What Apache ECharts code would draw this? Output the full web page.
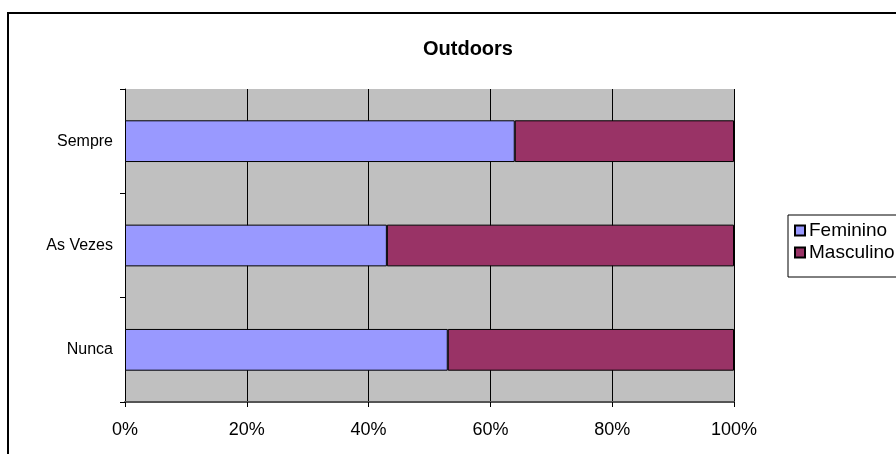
<!DOCTYPE html>
<html>
<head>
<meta charset="utf-8">
<script src="https://cdn.jsdelivr.net/npm/echarts@6/dist/echarts.min.js"></script>
<style>
  html, body { margin: 0; padding: 0; background: #fff; }
  #chart { width: 896px; height: 454px; }
</style>
</head>
<body>
<div id="chart"></div>
<script>
// categories bottom to top
const categories = ['Nunca', 'As Vezes', 'Sempre'];
const feminino = [53, 43, 64];
const masculino = [47, 57, 36];

const chart = echarts.init(document.getElementById('chart'));
const font = 'Liberation Sans, Arial, sans-serif';

const option = {
    animation: false,
    textStyle: { fontFamily: font },
    title: {
        text: 'Outdoors',
        left: 463,
        top: 34,
        textAlign: 'center',
        textStyle: { fontSize: 20, fontWeight: 'bold', color: '#000', fontFamily: font }
    },
    graphic: [{
        type: 'rect',
        shape: { x: 8, y: 13, width: 1000, height: 1000 },
        style: { fill: 'none', stroke: '#000', lineWidth: 2 }
    }],
    legend: {
        orient: 'vertical',
        left: 788,
        top: 215,
        data: ['Feminino', 'Masculino'],
        icon: 'rect',
        itemWidth: 10,
        itemHeight: 10,
        itemGap: 3,
        padding: [6, 20, 15, 6],
        borderColor: '#000',
        borderWidth: 1,
        textStyle: { fontSize: 19, color: '#000', fontFamily: font, padding: [0, 0, 0, -1] }
    },
    grid: {
        left: 125,
        right: 162,
        top: 89,
        bottom: 52,
        show: true,
        backgroundColor: '#C0C0C0',
        borderWidth: 0
    },
    xAxis: {
        type: 'value',
        min: 0,
        max: 100,
        interval: 20,
        axisLine: { show: true, lineStyle: { color: '#555', width: 2 } },
        axisTick: { show: true, length: 5, lineStyle: { color: '#000' } },
        axisLabel: { formatter: '{value}%', fontSize: 18, color: '#000', margin: 19, fontFamily: font },
        splitLine: { show: true, lineStyle: { color: '#000', width: 1 } }
    },
    yAxis: {
        type: 'category',
        data: categories,
        axisLine: { show: true, lineStyle: { color: '#000', width: 1 } },
        axisTick: { show: true, length: 5, lineStyle: { color: '#000' } },
        axisLabel: { fontSize: 16, color: '#000', margin: 12, fontFamily: font },
        splitLine: { show: false }
    },
    series: [
        {
            name: 'Feminino',
            type: 'bar',
            stack: 'total',
            barWidth: '40%',
            data: feminino,
            itemStyle: { color: '#9999FF', borderColor: '#000', borderWidth: 1 }
        },
        {
            name: 'Masculino',
            type: 'bar',
            stack: 'total',
            barWidth: '40%',
            data: masculino,
            itemStyle: { color: '#993366', borderColor: '#000', borderWidth: 1 }
        }
    ]
};
chart.setOption(option);
</script>
</body>
</html>
